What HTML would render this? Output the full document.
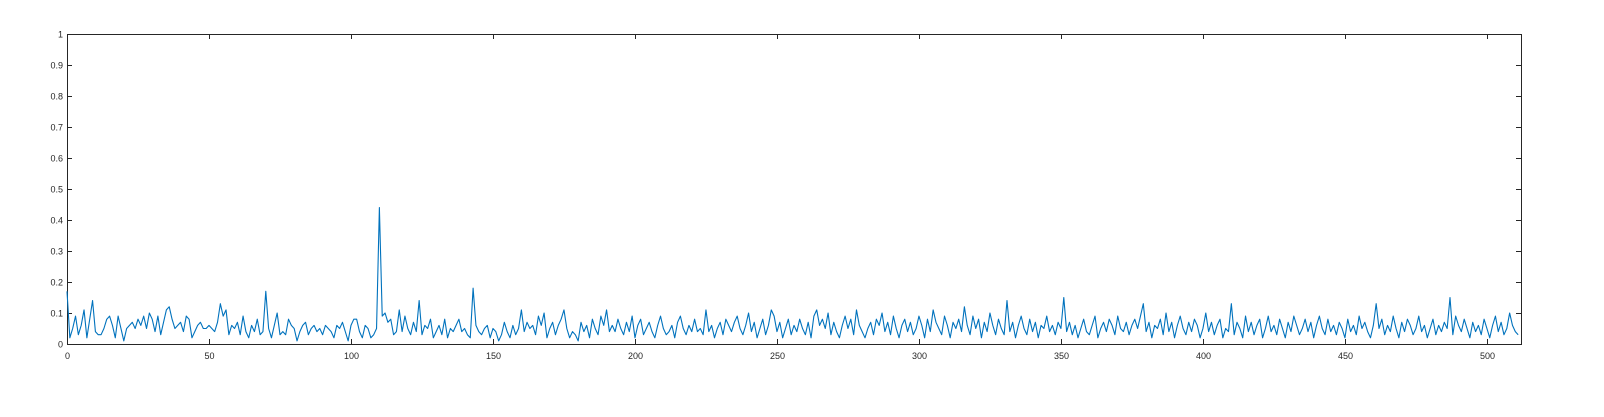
<!DOCTYPE html>
<html><head><meta charset="utf-8"><style>
html,body{margin:0;padding:0;background:#fff}
svg{display:block;font-family:"Liberation Sans",sans-serif}
</style></head><body>
<svg id="chart" width="1604" height="417" viewBox="0 0 1604 417" xmlns="http://www.w3.org/2000/svg"></svg>
<script>
const values = [
17,2,5,9,3,6,11,2,8,14,4,3,3,5,8,9,6,2,9,5,1,5,6,7,5,8,6,9,5,10,8,4,
9,3,7,11,12,8,5,6,7,4,9,8,2,4,6,7,5,5,6,5,4,7,13,9,11,3,6,5,7,3,9,4,
2,6,4,8,3,4,17,5,2,6,10,3,4,3,8,6,5,1,4,6,7,3,5,6,4,5,3,6,5,4,2,6,
5,7,4,1,6,8,8,4,2,6,5,2,3,5,44,9,10,7,8,3,4,11,4,9,5,3,7,4,14,3,6,5,
8,2,4,6,3,8,2,5,4,6,8,4,5,3,2,18,6,4,3,5,6,2,5,4,1,3,7,4,2,6,3,5,
11,4,7,5,6,3,9,6,10,2,5,7,3,6,8,11,5,2,4,3,1,7,4,6,2,8,5,3,9,6,11,4,
6,4,8,5,3,7,4,9,2,6,8,3,5,7,4,2,6,9,5,3,4,6,2,7,9,5,3,6,4,8,4,5,
3,11,4,6,2,5,7,3,8,6,4,7,9,5,3,6,10,4,7,2,5,8,3,6,11,9,4,7,2,5,8,3,
6,4,8,5,3,7,2,9,11,6,8,5,10,3,7,4,2,6,9,5,8,3,11,6,4,2,5,7,3,8,6,10,
4,7,3,9,5,2,6,8,4,7,3,5,9,6,2,8,4,11,7,5,3,9,6,2,7,5,8,4,12,6,3,9,
5,8,2,7,4,10,6,3,8,5,3,14,4,7,2,6,9,5,3,8,4,7,2,6,5,9,4,6,3,7,5,15,
4,7,3,6,2,5,8,4,3,6,9,2,5,7,4,8,6,3,9,5,4,7,3,6,8,5,9,13,4,7,2,6,
5,8,3,10,4,7,2,6,9,5,3,7,4,8,6,2,5,10,4,7,3,6,8,2,5,4,13,3,7,5,2,9,
4,7,3,6,8,2,5,9,4,6,3,8,5,2,7,4,9,6,3,5,8,4,7,2,6,9,5,3,8,4,6,3,
7,5,2,8,4,6,3,9,5,7,4,2,6,13,5,8,3,6,4,9,5,2,7,4,8,6,3,5,9,4,6,2,
5,8,3,6,4,7,5,15,3,9,6,4,8,5,2,7,4,6,3,8,5,2,6,9,4,7,3,5,10,6,4,3
].map(v=>v/100);
const xTicks = [0,50,100,150,200,250,300,350,400,450,500];
const yTicks = [0,0.1,0.2,0.3,0.4,0.5,0.6,0.7,0.8,0.9,1];
const yTickLabels = ["0","0.1","0.2","0.3","0.4","0.5","0.6","0.7","0.8","0.9","1"];

const L=67,R=1521,T=34,B=344,XMAX=512;
const sx=v=>L+(v/XMAX)*(R-L);
const sy=v=>B-v*(B-T);
const svg=document.getElementById('chart');
const NS='http://www.w3.org/2000/svg';
function mk(tag,attrs){const e=document.createElementNS(NS,tag);for(const k in attrs)e.setAttribute(k,attrs[k]);svg.appendChild(e);return e;}

const box=mk('rect',{x:L+0.5,y:T+0.5,width:R-L,height:B-T,fill:'#fff',stroke:'#262626','stroke-width':1});



xTicks.forEach(t=>{
  const x=Math.round(sx(t))+0.5;
  const a=mk('line',{x1:x,y1:B,x2:x,y2:B-5,stroke:'#262626'});
  
  
  const b=mk('line',{x1:x,y1:T,x2:x,y2:T+5,stroke:'#262626'});
  
  
  const tx=mk('text',{x:x,y:B+15,'font-size':9,'text-anchor':'middle',fill:'#262626'});
  tx.textContent=t;
  
  
});
yTicks.forEach((t,i)=>{
  const y=Math.round(sy(t))+0.5;
  const a=mk('line',{x1:L,y1:y,x2:L+5,y2:y,stroke:'#262626'});
  
  
  const b=mk('line',{x1:R,y1:y,x2:R-5,y2:y,stroke:'#262626'});
  
  
  const tx=mk('text',{x:L-4,y:y+3,'font-size':9,'text-anchor':'end',fill:'#262626'});
  tx.textContent=yTickLabels[i];
  
  
});
const d=values.map((v,i)=>(i?'L':'M')+sx(i).toFixed(2)+' '+sy(v).toFixed(2)).join(' ');
const line=mk('path',{d:d,fill:'none',stroke:'#0072BD','stroke-width':1.1,'stroke-linejoin':'round'});


</script>
</body></html>
